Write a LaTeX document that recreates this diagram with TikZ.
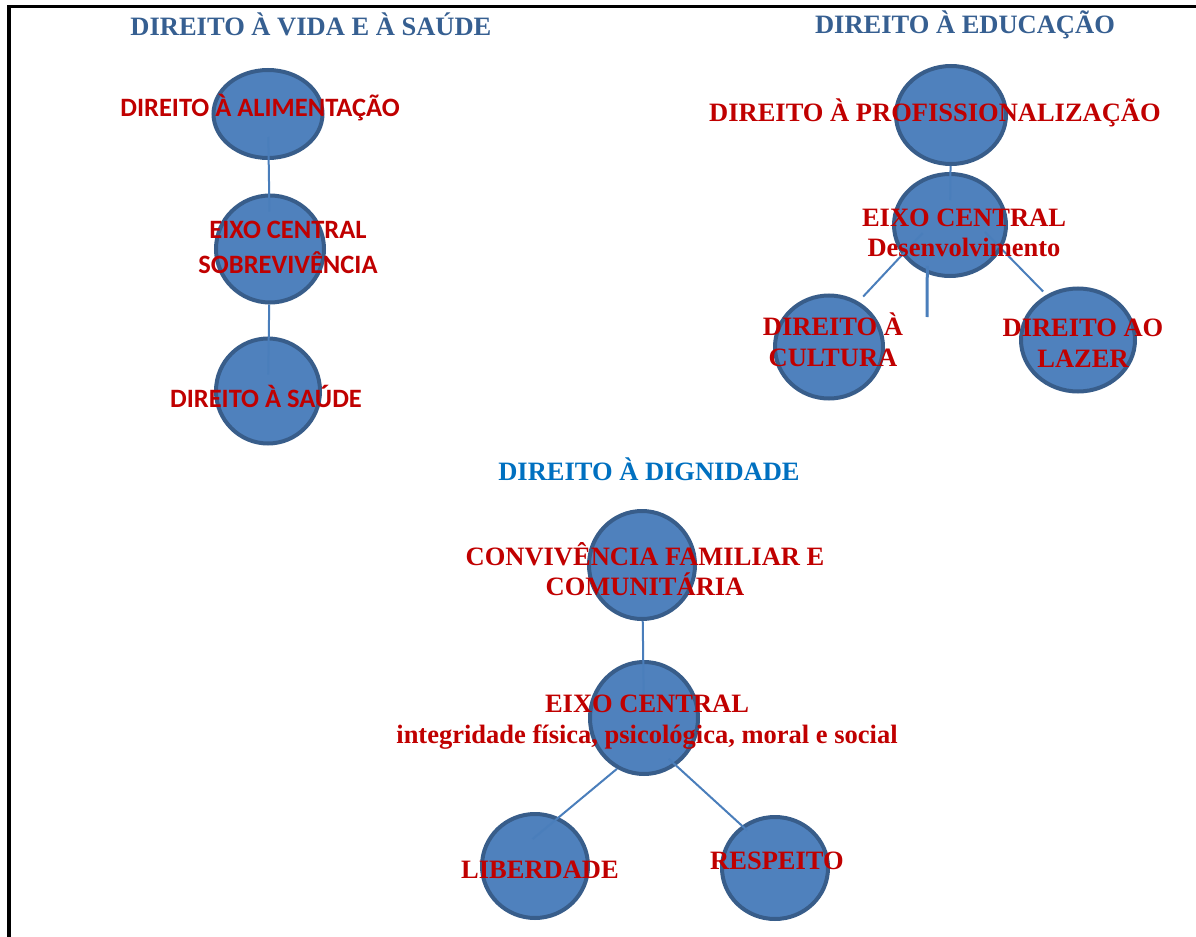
\documentclass[tikz,border=0pt]{standalone}
\usepackage{fontspec}
\setmainfont{Liberation Serif}
\newfontfamily\calibri{Carlito}
\usetikzlibrary{shapes.geometric}

\definecolor{titblue}{HTML}{365F91}
\definecolor{dignblue}{HTML}{0070C0}
\definecolor{txtred}{HTML}{C00000}
\definecolor{ballfill}{HTML}{4F81BD}
\definecolor{balledge}{HTML}{385D8A}
\definecolor{linkblue}{HTML}{4A7EBB}

\begin{document}
\begin{tikzpicture}[x=0.5pt,y=-0.5pt,
    ball/.style 2 args={ellipse, draw=balledge, line width=2pt, fill=ballfill,
        inner sep=0pt, minimum width={(#1-4)*0.5pt}, minimum height={(#2-4)*0.5pt}},
    link/.style={draw=linkblue, line width=1pt},
    lbl/.style={text=txtred, align=center, inner sep=0pt,
        font=\bfseries\fontsize{13.25}{15.25}\selectfont},
    sanslbl/.style={lbl, font=\calibri\bfseries\fontsize{13.25}{17.5}\selectfont},
    ttl/.style={text=titblue, inner sep=0pt, font=\bfseries\fontsize{13.25}{15.25}\selectfont}]
    \useasboundingbox (0,0) rectangle (1196,937);

    % moldura
    \draw[line width=2pt] (9,937) -- (9,5);
    \draw[line width=1.5pt] (7,6.5) -- (1196,6.5);

    % vida e saude
    \node[ttl] (vida) at (311,24) {DIREITO À VIDA E À SAÚDE};
    \node[ball={113}{92}] (alim) at (268,114) {};
    \node[ball={112}{111}] (sobrev) at (270,249) {};
    \node[ball={108}{109}] (saude) at (268,391) {};
    \draw[link, shorten <=-11.5pt, shorten >=-9pt] (alim) -- (sobrev);
    \draw[link, shorten >=-19pt] (sobrev) -- (saude);
    \node[sanslbl] (alimtxt) at (260,108) {DIREITO À ALIMENTAÇÃO};
    \node[sanslbl] (sobrevtxt) at (288,247) {EIXO CENTRAL\\SOBREVIVÊNCIA};
    \node[sanslbl] (saudetxt) at (266,396) {DIREITO À SAÚDE};

    % educacao
    \node[ttl] (educ) at (965,25) {DIREITO À EDUCAÇÃO};
    \node[ball={114}{102}] (prof) at (951,115) {};
    \node[ball={116}{106}] (desenv) at (950,225) {};
    \node[ball={112}{107}] (cult) at (829,347) {};
    \node[ball={118}{107}] (lazer) at (1078,340) {};
    \coordinate (stubend) at (927,317);
    \draw[link, shorten >=-14pt] (prof) -- (desenv);
    \draw[link, shorten <=-15pt, shorten >=3.4pt] (desenv.-148) -- (cult.57);
    \draw[link, shorten <=-12pt, shorten >=2.3pt] (desenv.-25) -- (lazer.125);
    \draw[link, line width=1.5pt, shorten <=-4pt] (desenv.-115) -- (stubend);
    \node[lbl] (proftxt) at (935,113) {DIREITO À PROFISSIONALIZAÇÃO};
    \node[lbl] (desenvtxt) at (964,233) {EIXO CENTRAL\\Desenvolvimento};
    \node[lbl] (culttxt) at (833,340) {DIREITO À\\CULTURA};
    \node[lbl] (lazertxt) at (1083,343) {DIREITO AO\\LAZER};

    % dignidade
    \node[ttl, text=dignblue] (dign) at (649,469) {DIREITO À DIGNIDADE};
    \node[ball={110}{112}] (conv) at (642,565) {};
    \node[ball={112}{116}] (integ) at (644,718) {};
    \node[ball={110}{108}] (liber) at (535,866) {};
    \node[ball={110}{106}] (resp) at (775,868) {};
    \draw[link, shorten >=-20pt] (conv) -- (integ);
    \draw[link, shorten >=-17pt] (integ.-118) -- (liber.64);
    \draw[link, shorten <=-5pt, shorten >=-3.5pt] (integ.-56) -- (resp.128);
    \node[lbl] (convtxt) at (645,569) {CONVIVÊNCIA FAMILIAR E\\COMUNITÁRIA};
    \node[lbl] (integtxt) at (647,722) {EIXO CENTRAL\\integridade física, psicológica, moral e social};
    \node[lbl] (libertxt) at (540,870) {LIBERDADE};
    \node[lbl] (resptxt) at (777,861) {RESPEITO};
\end{tikzpicture}
\end{document}
